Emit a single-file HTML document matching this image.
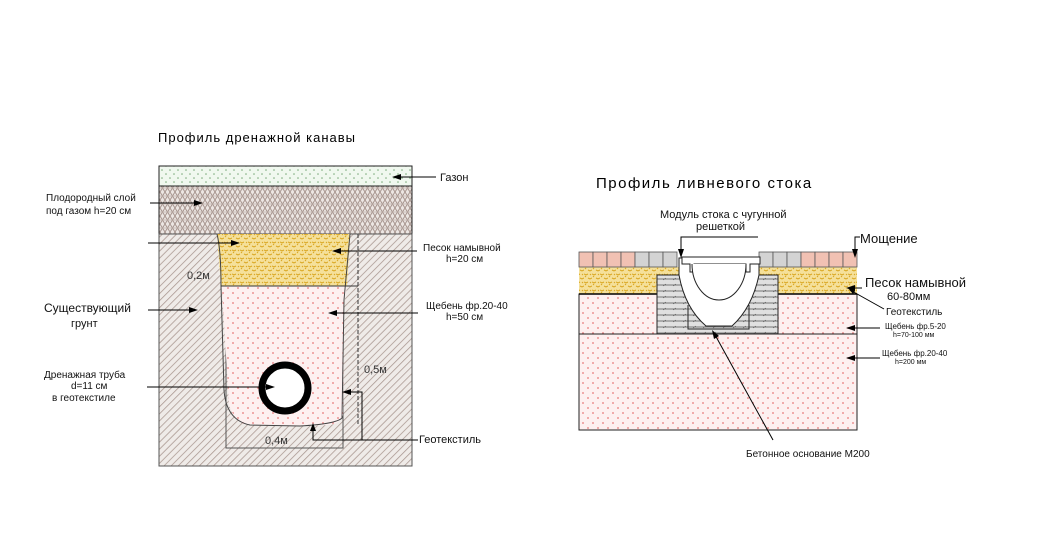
<!DOCTYPE html>
<html><head><meta charset="utf-8"><style>
html,body{margin:0;padding:0;background:#fff;}
svg{display:block;font-family:"Liberation Sans","DejaVu Sans",sans-serif;}
</style></head><body>
<svg width="1037" height="554" viewBox="0 0 1037 554" xmlns="http://www.w3.org/2000/svg">
<defs>
<pattern id="hatch" width="5" height="5" patternUnits="userSpaceOnUse" patternTransform="rotate(45)">
<rect width="5" height="5" fill="#efebe8"/><line x1="0" y1="0" x2="0" y2="5" stroke="#a8958e" stroke-width="1.5"/></pattern>
<pattern id="cross" width="10" height="8" patternUnits="userSpaceOnUse">
<rect width="10" height="8" fill="#ece6e3"/><path d="M0 8L5 0L10 8M0 0L5 8L10 0" stroke="#a89690" stroke-width="1" fill="none"/><line x1="0" y1="4" x2="10" y2="4" stroke="#c2b4ae" stroke-width="0.8"/></pattern>
<pattern id="dots" width="8" height="8" patternUnits="userSpaceOnUse">
<rect width="8" height="8" fill="#f0f8ef"/><circle cx="2" cy="2" r="0.8" fill="#7aaa7a"/><circle cx="6" cy="6" r="0.8" fill="#7aaa7a"/></pattern>
<pattern id="sand" width="8" height="8" patternUnits="userSpaceOnUse">
<rect width="8" height="8" fill="#f5e09a"/><path d="M0 2l2 1 2-1M4 6l2 1 2-1M1 5l1-1M6 2l1 1" stroke="#d9a620" stroke-width="1" fill="none"/></pattern>
<pattern id="plus" width="10" height="10" patternUnits="userSpaceOnUse">
<rect width="10" height="10" fill="#fdf0f0"/><path d="M2 3h2M3 2v2M7 8h2M8 7v2" stroke="#e88080" stroke-width="0.8"/></pattern>
<pattern id="conc" width="10" height="6" patternUnits="userSpaceOnUse">
<rect width="10" height="6" fill="#e0e0e0"/><line x1="0" y1="3" x2="10" y2="3" stroke="#444" stroke-width="0.7"/><line x1="3" y1="4" x2="6" y2="2" stroke="#444" stroke-width="0.5"/></pattern>
</defs>

<text x="158" y="142" font-size="13" letter-spacing="1">Профиль дренажной канавы</text>
<rect x="159" y="166" width="253" height="20" fill="url(#dots)" stroke="#222" stroke-width="1"/>
<rect x="159" y="186" width="253" height="48" fill="url(#cross)" stroke="#222" stroke-width="1"/>
<rect x="159" y="234" width="253" height="232" fill="url(#hatch)" stroke="#555" stroke-width="1"/>
<rect x="226" y="287" width="117" height="161" fill="none" stroke="#555" stroke-width="1"/>
<path d="M217 234 L350 234 L347 286 L221 286 Z" fill="url(#sand)"/>
<path d="M221 286 L347 286 L344 305 L343 415 Q341 423 330 425 L300 426 L250 425 Q236 425 229 405 L222 290 Z" fill="url(#plus)"/>
<path d="M217 234 Q221 250 221 286 L224 390 Q226 420 250 425 L300 426 Q336 424 342 418 L344 300 L350 234" fill="none" stroke="#444" stroke-width="1"/>
<line x1="221" y1="286" x2="358" y2="286" stroke="#333" stroke-width="1"/>
<line x1="358" y1="234" x2="358" y2="425" stroke="#333" stroke-dasharray="4,2"/>
<circle cx="285" cy="388" r="23" fill="#fff" stroke="#000" stroke-width="7"/>
<text x="187" y="279" font-size="11" fill="#333">0,2м</text>
<text x="364" y="373" font-size="11" fill="#333">0,5м</text>
<text x="265" y="444" font-size="11" fill="#333">0,4м</text>
<g stroke="#000" stroke-width="1" fill="none">
<path d="M436 177H395"/><path d="M150 203H200"/><path d="M148 243H237"/>
<path d="M417 251H335"/><path d="M148 310H195"/><path d="M418 313H331"/>
<path d="M147 387H272"/><path d="M418 440H362V392H345M362 440H313V425"/>
</g>
<g fill="#000">
<path d="M392 177l9-3v6z"/><path d="M203 203l-9-3v6z"/><path d="M240 243l-9-3v6z"/>
<path d="M332 251l9-3v6z"/><path d="M198 310l-9-3v6z"/><path d="M328 313l9-3v6z"/>
<path d="M275 387l-9-3v6z"/><path d="M342 392l9-3v6z"/><path d="M313 423l-3 8h6z"/>
</g>
<g font-size="10" fill="#111">
<text x="440" y="181" font-size="11">Газон</text>
<text x="46" y="201">Плодородный слой</text><text x="46" y="214">под газом h=20 см</text>
<text x="423" y="251">Песок намывной</text><text x="446" y="262">h=20 см</text>
<text x="44" y="312" font-size="12">Существующий</text><text x="71" y="327" font-size="11">грунт</text>
<text x="426" y="309">Щебень фр.20-40</text><text x="446" y="320">h=50 см</text>
<text x="44" y="378">Дренажная труба</text><text x="71" y="389">d=11 см</text><text x="52" y="401">в геотекстиле</text>
<text x="419" y="443" font-size="11">Геотекстиль</text>
</g>

<text x="596" y="188" font-size="15" letter-spacing="1.5">Профиль ливневого стока</text>
<rect x="579" y="334" width="278" height="96" fill="url(#plus)" stroke="#222"/>
<rect x="579" y="294" width="278" height="40" fill="url(#plus)" stroke="#222"/>
<rect x="579" y="267" width="278" height="27" fill="url(#sand)"/>
<line x1="579" y1="294" x2="857" y2="294" stroke="#000" stroke-width="1.5"/>
<g stroke="#555" stroke-width="0.8">
<rect x="579" y="252" width="14" height="15" fill="#f1c1b3"/><rect x="593" y="252" width="14" height="15" fill="#f1c1b3"/><rect x="607" y="252" width="14" height="15" fill="#f1c1b3"/><rect x="621" y="252" width="14" height="15" fill="#f1c1b3"/>
<rect x="635" y="252" width="14" height="15" fill="#d3d3d3"/><rect x="649" y="252" width="14" height="15" fill="#d3d3d3"/><rect x="663" y="252" width="14" height="15" fill="#d3d3d3"/>
<rect x="759" y="252" width="14" height="15" fill="#d3d3d3"/><rect x="773" y="252" width="14" height="15" fill="#d3d3d3"/><rect x="787" y="252" width="14" height="15" fill="#d3d3d3"/>
<rect x="801" y="252" width="14" height="15" fill="#f1c1b3"/><rect x="815" y="252" width="14" height="15" fill="#f1c1b3"/><rect x="829" y="252" width="14" height="15" fill="#f1c1b3"/><rect x="843" y="252" width="14" height="15" fill="#f1c1b3"/>
</g>
<rect x="657" y="275" width="121" height="59" fill="url(#conc)" stroke="#222"/>
<path d="M679 258 L679 275 Q685 308 706 326 L732 326 Q752 308 759 275 L759 258 Z" fill="#fff" stroke="#222"/>
<path d="M688 305 L688 329 L749 329 L749 305" fill="none" stroke="#222"/>
<path d="M682 257H760V264H750V272H746V264H694V272H690V264H682Z" fill="#fff" stroke="#222"/>
<path d="M692 264 A27 36 0 0 0 746 264" fill="#fff" stroke="#222"/>
<g stroke="#000" fill="none">
<path d="M681 250V237H758"/><path d="M855 250V237H860"/>
<path d="M862 288H848"/><path d="M884 309L850 290"/>
<path d="M880 328H848"/><path d="M880 358H848"/>
<path d="M773 440L714 333"/>
</g>
<g fill="#000">
<path d="M681 258l-3-9h6z"/><path d="M855 258l-3-9h6z"/>
<path d="M846 288l9-3v6z"/><path d="M848 288l7 3-2 3z"/>
<path d="M846 328l9-3v6z"/><path d="M846 358l9-3v6z"/><path d="M712 330l2 9 5-3z"/>
</g>
<g fill="#111">
<text x="660" y="218" font-size="11">Модуль стока с чугунной</text>
<text x="696" y="230" font-size="11">решеткой</text>
<text x="860" y="243" font-size="13">Мощение</text>
<text x="865" y="287" font-size="13">Песок намывной</text>
<text x="887" y="300" font-size="11">60-80мм</text>
<text x="886" y="315" font-size="10">Геотекстиль</text>
<text x="885" y="329" font-size="8">Щебень фр.5-20</text><text x="893" y="337" font-size="7">h=70-100 мм</text>
<text x="882" y="356" font-size="8">Щебень фр.20-40</text><text x="895" y="364" font-size="7">h=200 мм</text>
<text x="746" y="457" font-size="10">Бетонное основание М200</text>
</g>
</svg>
</body></html>
